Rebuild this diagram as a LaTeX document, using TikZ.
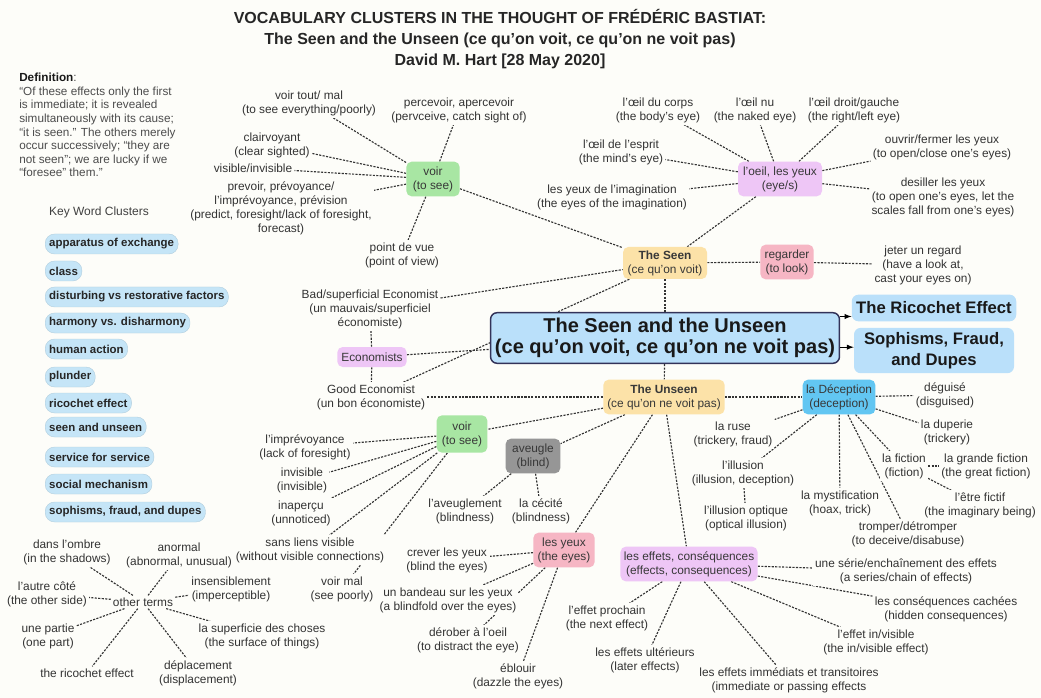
\documentclass[tikz,border=0pt]{standalone}
\usepackage{fontspec}
\setmainfont{Liberation Sans}
\usetikzlibrary{positioning,backgrounds}

\definecolor{paper}{RGB}{253,253,249}
\definecolor{kwblue}{RGB}{197,229,247}
\definecolor{mainblue}{RGB}{186,224,250}
\definecolor{greenhub}{RGB}{168,230,163}
\definecolor{orangehub}{RGB}{252,226,168}
\definecolor{lilachub}{RGB}{238,198,246}
\definecolor{redhub}{RGB}{246,182,196}
\definecolor{grayhub}{RGB}{150,150,150}
\definecolor{cyanhub}{RGB}{98,198,242}

\begin{document}
\begin{tikzpicture}[
    x=0.75pt, y=-0.75pt, % pixel grid, y downwards
    leaf/.style={
        align=center,
        fill=paper,
        inner sep=1.5pt,
        font=\fontsize{8.9}{10.5}\selectfont,
        text=black!80
    },
    hub/.style={
        rectangle,
        rounded corners=4pt,
        align=center,
        inner sep=2.5pt,
        minimum height=26pt,
        font=\fontsize{8.9}{10.5}\selectfont,
        text=black!78
    },
    kwbox/.style={
        rectangle,
        rounded corners=7pt,
        fill=kwblue,
        draw=kwblue!90!black,
        line width=0.3pt,
        anchor=west,
        inner xsep=3pt,
        minimum height=15pt,
        font=\bfseries\fontsize{8.6}{10}\selectfont,
        text=black!85
    },
    mainbox/.style={
        rectangle,
        rounded corners=5pt,
        fill=mainblue,
        draw=black!75!blue!60!gray,
        line width=1.1pt,
        align=center,
        minimum width=250pt,
        minimum height=38pt,
        font=\bfseries\fontsize{15}{16}\selectfont,
        text=black!90
    },
    topicbox/.style={
        rectangle,
        rounded corners=5pt,
        fill=mainblue,
        align=center,
        minimum width=120pt,
        font=\bfseries\fontsize{12.5}{15.5}\selectfont,
        text=black!90
    },
    link/.style={
        draw,
        black!80,
        line width=0.85pt,
        dash pattern=on 1.6pt off 1pt
    },
    arrow/.style={
        draw,
        -latex,
        line width=0.8pt,
        black
    }
]
    \useasboundingbox (0,0) rectangle (1041,698);

    % --- Title and notes ---
    \node [align=center, font=\bfseries\fontsize{12}{15.8}\selectfont, text=black!85] (title) at (500,39)
        {VOCABULARY CLUSTERS IN THE THOUGHT OF FRÉDÉRIC BASTIAT:\\
         The Seen and the Unseen (ce qu'on voit, ce qu'on ne voit pas)\\
         David M. Hart [28 May 2020]};
    \node [anchor=north west, align=left, inner sep=0pt, font=\fontsize{8.8}{10.2}\selectfont, text=black!70] (definition) at (19,73)
        {{\color{black!90}\bfseries Definition}:\\
         ``Of these effects only the first\\
         is immediate; it is revealed\\
         simultaneously with its cause;\\
         ``it is seen.'' The others merely\\
         occur successively; ``they are\\
         not seen''; we are lucky if we\\
         ``foresee'' them.''};
    \node [font=\fontsize{9}{11}\selectfont, text=black!75] (kwtitle) at (99,212) {Key Word Clusters};

    % Key word list
    \node [kwbox] (kwapparatus) at (45,244) {apparatus of exchange};
    \node [kwbox] (kwclass) at (45,271) {class};
    \node [kwbox] (kwdisturbing) at (45,297) {disturbing vs restorative factors};
    \node [kwbox] (kwharmony) at (45,323) {harmony vs. disharmony};
    \node [kwbox] (kwaction) at (45,349) {human action};
    \node [kwbox] (kwplunder) at (45,377) {plunder};
    \node [kwbox] (kwricochet) at (45,403) {ricochet effect};
    \node [kwbox] (kwseen) at (45,427) {seen and unseen};
    \node [kwbox] (kwservice) at (45,457) {service for service};
    \node [kwbox] (kwsocial) at (45,484) {social mechanism};
    \node [kwbox] (kwsophisms) at (45,512) {sophisms, fraud, and dupes};

    % --- Central nodes ---
    \node [mainbox] (main) at (665,338) {The Seen and the Unseen\\(ce qu'on voit, ce qu'on ne voit pas)};
    \node [topicbox, minimum height=20pt] (ricochet) at (934,308) {The Ricochet Effect};
    \node [topicbox, below=4.5pt of ricochet, minimum height=34pt] (sophisms) {Sophisms, Fraud,\\and Dupes};

    \node [hub, fill=orangehub, minimum width=63pt, minimum height=24pt] (seen) at (665,263) {\textbf{The Seen}\\(ce qu'on voit)};
    \node [hub, fill=orangehub, minimum width=91pt] (unseen) at (664,397) {\textbf{The Unseen}\\(ce qu'on ne voit pas)};

    % --- Clusters of the Seen ---
    \node [hub, fill=greenhub, minimum width=40pt] (voirtop) at (433,179) {voir\\(to see)};
    \node [leaf] (voirtout) at (309,103) {voir tout/ mal\\(to see everything/poorly)};
    \node [leaf] (percevoir) at (459,110) {percevoir, apercevoir\\(pervceive, catch sight of)};
    \node [leaf] (clairvoyant) at (272,145) {clairvoyant\\(clear sighted)};
    \node [leaf] (visible) at (253,168) {visible/invisible};
    \node [leaf] (prevoir) at (281,208) {prevoir, prévoyance/\\l'imprévoyance, prévision\\(predict, foresight/lack of foresight,\\forecast)};
    \node [leaf] (pointdevue) at (402,255) {point de vue\\(point of view)};

    \node [hub, fill=lilachub, minimum width=63pt] (oeil) at (780,179) {l'oeil, les yeux\\(eye/s)};
    \node [leaf] (oeilcorps) at (658,110) {l'œil du corps\\(the body's eye)};
    \node [leaf] (oeilnu) at (755,110) {l'œil nu\\(the naked eye)};
    \node [leaf] (oeildroit) at (854,110) {l'œil droit/gauche\\(the right/left eye)};
    \node [leaf] (oeilesprit) at (621,152) {l'œil de l'esprit\\(the mind's eye)};
    \node [leaf] (yeuximag) at (612,197) {les yeux de l'imagination\\(the eyes of the imagination)};
    \node [leaf] (ouvrir) at (942,147) {ouvrir/fermer les yeux\\(to open/close one's eyes)};
    \node [leaf] (desiller) at (943,197) {desiller les yeux\\(to open one's eyes, let the\\scales fall from one's eyes)};

    \node [hub, fill=redhub, minimum width=40pt] (regarder) at (787,262) {regarder\\(to look)};
    \node [leaf] (jeter) at (923,265) {jeter un regard\\(have a look at,\\cast your eyes on)};

    % Economists
    \node [hub, fill=lilachub, minimum width=52pt, minimum height=15pt] (economists) at (372,357) {Economists};
    \node [leaf] (badecon) at (370,309) {Bad/superficial Economist\\(un mauvais/superficiel\\économiste)};
    \node [leaf] (goodecon) at (371,397) {Good Economist\\(un bon économiste)};

    % --- Clusters of the Unseen ---
    \node [hub, fill=greenhub, minimum width=38pt, minimum height=28pt] (voirlow) at (462,434) {voir\\(to see)};
    \node [leaf] (imprevoyance) at (305,447) {l'imprévoyance\\(lack of foresight)};
    \node [leaf] (invisible) at (302,480) {invisible\\(invisible)};
    \node [leaf] (inapercu) at (301,513) {inaperçu\\(unnoticed)};
    \node [leaf] (sansliens) at (310,550) {sans liens visible\\(without visible connections)};
    \node [leaf] (voirmal) at (342,589) {voir mal\\(see poorly)};

    \node [hub, fill=grayhub, minimum width=41pt] (aveugle) at (533,456) {aveugle\\(blind)};
    \node [leaf] (aveuglement) at (465,511) {l'aveuglement\\(blindness)};
    \node [leaf] (cecite) at (541,511) {la cécité\\(blindness)};

    \node [hub, fill=redhub, minimum width=46pt] (yeux) at (564,550) {les yeux\\(the eyes)};
    \node [leaf] (crever) at (447,560) {crever les yeux\\(blind the eyes)};
    \node [leaf] (bandeau) at (448,600) {un bandeau sur les yeux\\(a blindfold over the eyes)};
    \node [leaf] (derober) at (468,640) {dérober à l'oeil\\(to distract the eye)};
    \node [leaf] (eblouir) at (518,676) {éblouir\\(dazzle the eyes)};

    \node [hub, fill=cyanhub, minimum width=54pt] (deception) at (839,397) {la Déception\\(deception)};
    \node [leaf] (deguise) at (945,395) {déguisé\\(disguised)};
    \node [leaf] (duperie) at (947,432) {la duperie\\(trickery)};
    \node [leaf] (ruse) at (733,434) {la ruse\\(trickery, fraud)};
    \node [leaf] (illusion) at (743,473) {l'illusion\\(illusion, deception)};
    \node [leaf] (optique) at (746,518) {l'illusion optique\\(optical illusion)};
    \node [leaf] (mystification) at (840,503) {la mystification\\(hoax, trick)};
    \node [leaf] (fiction) at (904,466) {la fiction\\(fiction)};
    \node [leaf] (grandefiction) at (986,466) {la grande fiction\\(the great fiction)};
    \node [leaf] (etrefictif) at (980,505) {l'être fictif\\(the imaginary being)};
    \node [leaf] (tromper) at (908,534) {tromper/détromper\\(to deceive/disabuse)};

    \node [hub, fill=lilachub, minimum width=102pt] (effets) at (689,564) {les effets, conséquences\\(effects, consequences)};
    \node [leaf] (serie) at (906,571) {une série/enchaînement des effets\\(a series/chain of effects)};
    \node [leaf] (cachees) at (946,609) {les conséquences cachées\\(hidden consequences)};
    \node [leaf] (prochain) at (607,618) {l'effet prochain\\(the next effect)};
    \node [leaf] (ulterieurs) at (645,660) {les effets ultérieurs\\(later effects)};
    \node [leaf] (immediats) at (789,680) {les effets immédiats et transitoires\\(immediate or passing effects};
    \node [leaf] (effetvisible) at (876,642) {l'effet in/visible\\(the in/visible effect)};

    % Other terms
    \node [leaf] (otherterms) at (143,602) {other terms};
    \node [leaf] (ombre) at (67,552) {dans l'ombre\\(in the shadows)};
    \node [leaf] (anormal) at (179,555) {anormal\\(abnormal, unusual)};
    \node [leaf] (autrecote) at (47,594) {l'autre côté\\(the other side)};
    \node [leaf] (insensiblement) at (231,589) {insensiblement\\(imperceptible)};
    \node [leaf] (partie) at (48,636) {une partie\\(one part)};
    \node [leaf] (superficie) at (262,636) {la superficie des choses\\(the surface of things)};
    \node [leaf] (ricochetterm) at (87,673) {the ricochet effect};
    \node [leaf] (deplacement) at (198,673) {déplacement\\(displacement)};

    % --- Connections ---
    \path [arrow] (main.7) -- (main.7 -| ricochet.west);
    \path [arrow] (main.-3) -- (main.-3 -| sophisms.west);

    \begin{scope}[on background layer]
        \fill [paper] (0,0) rectangle (1041,698);

        % the seen
        \path [link] (seen) -- (main);
        \path [link] (main) -- (unseen);
        \path [link] (voirtop) -- (seen);
        \path [link] (oeil) -- (seen);
        \path [link] (seen) -- (regarder);
        \path [link] (regarder) -- (jeter);
        \path [link] (voirtop) -- (voirtout);
        \path [link] (voirtop) -- (percevoir);
        \path [link] (voirtop) -- (clairvoyant);
        \path [link] (voirtop) -- (visible);
        \path [link] (voirtop) -- (prevoir);
        \path [link] (voirtop) -- (pointdevue);
        \path [link] (oeil) -- (oeilcorps);
        \path [link] (oeil) -- (oeilnu);
        \path [link] (oeil) -- (oeildroit);
        \path [link] (oeil) -- (oeilesprit);
        \path [link] (oeil) -- (yeuximag);
        \path [link] (oeil) -- (ouvrir);
        \path [link] (oeil) -- (desiller);

        % economists
        \path [link] (economists) -- (main);
        \path [link] (economists) -- (badecon);
        \path [link] (economists) -- (goodecon);
        \path [link] (badecon) -- (seen);
        \path [link] (goodecon) -- (seen);
        \path [link] (goodecon) -- (unseen);

        % the unseen
        \path [link] (unseen) -- (voirlow);
        \path [link] (unseen) -- (aveugle);
        \path [link] (unseen) -- (yeux);
        \path [link] (unseen) -- (effets);
        \path [link] (unseen) -- (deception);
        \path [link] (voirlow) -- (imprevoyance);
        \path [link] (voirlow) -- (invisible);
        \path [link] (voirlow) -- (inapercu);
        \path [link] (voirlow) -- (sansliens);
        \path [link] (voirlow) -- (voirmal);
        \path [link] (aveugle) -- (aveuglement);
        \path [link] (aveugle) -- (cecite);
        \path [link] (yeux) -- (crever);
        \path [link] (yeux) -- (bandeau);
        \path [link] (yeux) -- (derober);
        \path [link] (yeux) -- (eblouir);
        \path [link] (deception) -- (deguise);
        \path [link] (deception) -- (duperie);
        \path [link] (deception) -- (ruse);
        \path [link] (deception) -- (illusion);
        \path [link] (illusion) -- (optique);
        \path [link] (deception) -- (mystification);
        \path [link] (deception) -- (fiction);
        \path [link] (deception) -- (tromper);
        \path [link] (fiction) -- (grandefiction);
        \path [link] (fiction) -- (etrefictif);
        \path [link] (effets) -- (serie);
        \path [link] (effets) -- (cachees);
        \path [link] (effets) -- (prochain);
        \path [link] (effets) -- (ulterieurs);
        \path [link] (effets) -- (immediats);
        \path [link] (effets) -- (effetvisible);

        % other terms
        \path [link] (otherterms) -- (ombre);
        \path [link] (otherterms) -- (anormal);
        \path [link] (otherterms) -- (autrecote);
        \path [link] (otherterms) -- (insensiblement);
        \path [link] (otherterms) -- (partie);
        \path [link] (otherterms) -- (superficie);
        \path [link] (otherterms) -- (ricochetterm);
        \path [link] (otherterms) -- (deplacement);
    \end{scope}

\end{tikzpicture}
\end{document}
